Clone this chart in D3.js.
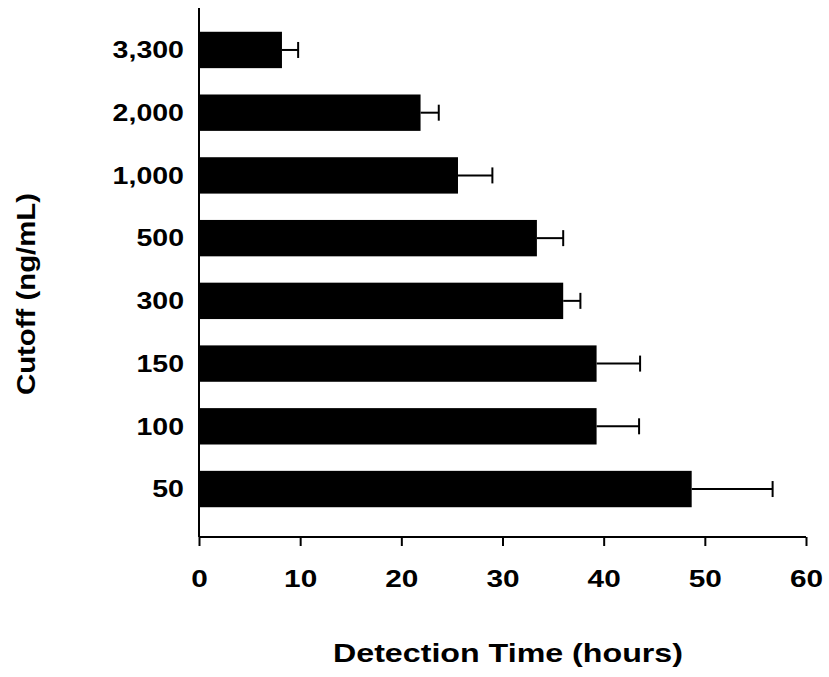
<!DOCTYPE html>
<html>
<head>
<meta charset="utf-8">
<script src="https://cdn.jsdelivr.net/npm/d3@7"></script>
<style>
  body { margin: 0; background: #fff; }
  text { font-family: "Liberation Sans", Arial, sans-serif; font-weight: bold; fill: #000; }
</style>
</head>
<body>
<svg id="chart" width="829" height="677"></svg>
<script>
(function(){

	// cutoff categories, top to bottom
	const cutoffs = ["3,300", "2,000", "1,000", "500", "300", "150", "100", "50"];
	// mean detection time (hours)
	const detectionTimes = [8.2, 21.9, 25.6, 33.4, 36.0, 39.3, 39.3, 48.7];
	// upper end of the error bar (hours)
	const errorUpper = [9.8, 23.7, 29.0, 36.0, 37.7, 43.6, 43.5, 56.7];
	const xTicks = [0, 10, 20, 30, 40, 50, 60];

	// the original lettering is a horizontally stretched helvetica
	const stretch = 1.24;

	const svg = d3.select("#chart");

	const x = d3.scaleLinear().domain([0, 60]).range([199, 806]);
	const y = d3.scaleBand().domain(cutoffs).range([18.6, 520.4]).paddingInner(0.42).paddingOuter(0.21);

	const rows = cutoffs.map(function(c, i) {
		return {cutoff: c, value: detectionTimes[i], upper: errorUpper[i]};
	});

	function widen(sel) {
		sel.each(function() {
			const len = this.getComputedTextLength();
			d3.select(this).attr("textLength", len * stretch).attr("lengthAdjust", "spacingAndGlyphs");
		});
	}

	// bars
	svg.append("g").selectAll("rect")
		.data(rows)
		.enter().append("rect")
		.attr("x", x(0))
		.attr("y", function(d) { return y(d.cutoff); })
		.attr("width", function(d) { return x(d.value) - x(0); })
		.attr("height", y.bandwidth())
		.attr("fill", "#000");

	// error bars
	const err = svg.append("g").attr("stroke", "#000").attr("stroke-width", 2);
	err.selectAll("line.stem")
		.data(rows)
		.enter().append("line")
		.attr("class", "stem")
		.attr("x1", function(d) { return x(d.value); })
		.attr("x2", function(d) { return x(d.upper); })
		.attr("y1", function(d) { return y(d.cutoff) + y.bandwidth() / 2; })
		.attr("y2", function(d) { return y(d.cutoff) + y.bandwidth() / 2; });
	err.selectAll("line.cap")
		.data(rows)
		.enter().append("line")
		.attr("class", "cap")
		.attr("x1", function(d) { return x(d.upper); })
		.attr("x2", function(d) { return x(d.upper); })
		.attr("y1", function(d) { return y(d.cutoff) + y.bandwidth() / 2 - 8; })
		.attr("y2", function(d) { return y(d.cutoff) + y.bandwidth() / 2 + 8; });

	// x axis
	const axisY = 537;
	const xAxis = svg.append("g")
		.attr("transform", "translate(0," + axisY + ")")
		.call(d3.axisBottom(x).tickValues(xTicks).tickSize(9).tickPadding(32).tickFormat(d3.format("d")));
	xAxis.select(".domain").attr("stroke", "#000").attr("stroke-width", 2).attr("d", "M" + x(0) + ",0H" + x(60));
	xAxis.selectAll(".tick line").attr("stroke", "#000").attr("stroke-width", 2);
	xAxis.selectAll(".tick text")
		.attr("font-size", 24)
		.attr("font-family", "Liberation Sans, Arial, sans-serif")
		.attr("font-weight", "bold")
		.attr("dy", null)
		.attr("y", 50)
		.call(widen);

	// y axis: plain line plus category labels
	svg.append("line")
		.attr("x1", x(0)).attr("x2", x(0))
		.attr("y1", 8).attr("y2", axisY)
		.attr("stroke", "#000").attr("stroke-width", 2);

	svg.append("g").selectAll("text")
		.data(cutoffs)
		.enter().append("text")
		.attr("x", 184)
		.attr("y", function(d) { return y(d) + y.bandwidth() / 2; })
		.attr("dy", "0.36em")
		.attr("text-anchor", "end")
		.attr("font-size", 23)
		.text(function(d) { return d; })
		.call(widen);

	// axis titles
	svg.append("text")
		.attr("x", 508)
		.attr("y", 662)
		.attr("text-anchor", "middle")
		.attr("font-size", 26)
		.attr("textLength", 350)
		.attr("lengthAdjust", "spacingAndGlyphs")
		.text("Detection Time (hours)");

	svg.append("text")
		.attr("transform", "translate(35,294) rotate(-90)")
		.attr("text-anchor", "middle")
		.attr("font-size", 25)
		.attr("textLength", 202)
		.attr("lengthAdjust", "spacingAndGlyphs")
		.text("Cutoff (ng/mL)");

}());
</script>
</body>
</html>
